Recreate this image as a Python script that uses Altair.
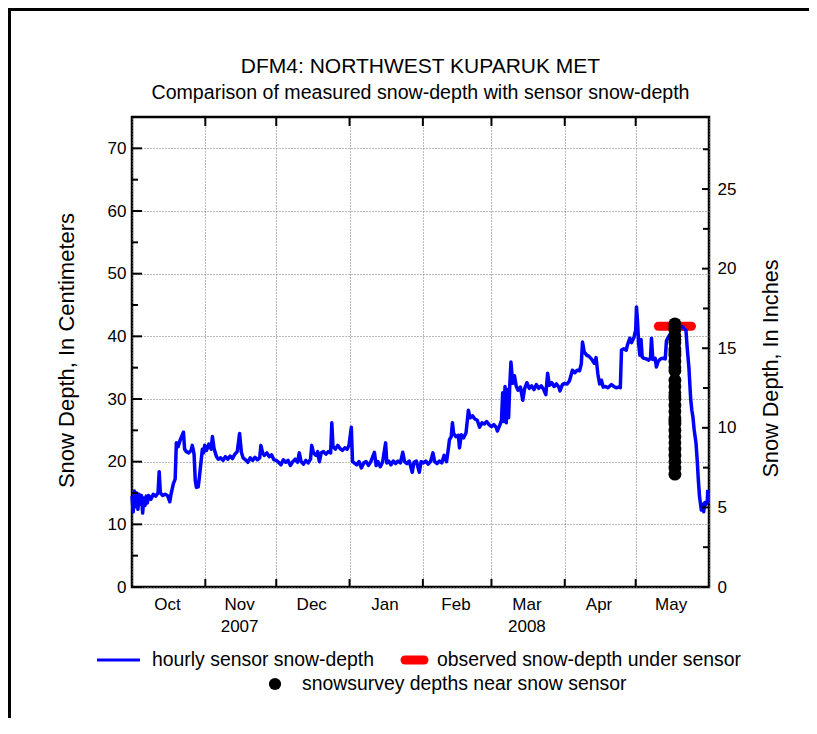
import altair as alt
import pandas as pd

# ---------------- data ----------------
sensor_time = [
    "2007-10-01T00:00", "2007-10-01T12:00", "2007-10-02T00:00", "2007-10-02T12:00", "2007-10-03T00:00",
    "2007-10-03T12:00", "2007-10-04T00:00", "2007-10-04T12:00", "2007-10-05T00:00", "2007-10-05T12:00",
    "2007-10-06T00:00", "2007-10-06T12:00", "2007-10-07T00:00", "2007-10-07T12:00", "2007-10-08T00:00",
    "2007-10-09T00:00", "2007-10-10T00:00", "2007-10-11T00:00", "2007-10-12T00:00", "2007-10-12T12:00",
    "2007-10-13T00:00", "2007-10-14T00:00", "2007-10-15T00:00", "2007-10-16T00:00", "2007-10-17T00:00",
    "2007-10-17T12:00", "2007-10-18T12:00", "2007-10-19T06:00", "2007-10-19T18:00", "2007-10-20T12:00",
    "2007-10-21T12:00", "2007-10-22T18:00", "2007-10-23T06:00", "2007-10-24T00:00", "2007-10-25T00:00",
    "2007-10-26T00:00", "2007-10-26T12:00", "2007-10-27T06:00", "2007-10-27T18:00", "2007-10-28T06:00",
    "2007-10-29T00:00", "2007-10-29T12:00", "2007-10-30T18:00", "2007-10-31T06:00", "2007-10-31T18:00",
    "2007-11-01T12:00", "2007-11-02T12:00", "2007-11-03T12:00", "2007-11-04T00:00", "2007-11-04T18:00",
    "2007-11-05T18:00", "2007-11-06T12:00", "2007-11-07T12:00", "2007-11-08T12:00", "2007-11-09T12:00",
    "2007-11-10T12:00", "2007-11-11T12:00", "2007-11-12T12:00", "2007-11-13T12:00", "2007-11-14T12:00",
    "2007-11-15T12:00", "2007-11-16T06:00", "2007-11-17T00:00", "2007-11-18T00:00", "2007-11-19T00:00",
    "2007-11-20T00:00", "2007-11-21T00:00", "2007-11-22T00:00", "2007-11-23T00:00", "2007-11-24T00:00",
    "2007-11-24T12:00", "2007-11-25T06:00", "2007-11-26T00:00", "2007-11-27T00:00", "2007-11-28T00:00",
    "2007-11-29T00:00", "2007-11-30T00:00", "2007-12-01T00:00", "2007-12-02T00:00", "2007-12-03T00:00",
    "2007-12-04T00:00", "2007-12-05T00:00", "2007-12-06T00:00", "2007-12-07T00:00", "2007-12-08T00:00",
    "2007-12-09T00:00", "2007-12-10T00:00", "2007-12-10T18:00", "2007-12-11T12:00", "2007-12-12T12:00",
    "2007-12-13T12:00", "2007-12-14T12:00", "2007-12-15T12:00", "2007-12-16T00:00", "2007-12-16T18:00",
    "2007-12-17T18:00", "2007-12-18T12:00", "2007-12-19T06:00", "2007-12-20T00:00", "2007-12-21T00:00",
    "2007-12-22T00:00", "2007-12-23T00:00", "2007-12-24T00:00", "2007-12-24T12:00", "2007-12-25T00:00",
    "2007-12-26T00:00", "2007-12-27T00:00", "2007-12-28T00:00", "2007-12-29T00:00", "2007-12-30T00:00",
    "2007-12-31T00:00", "2007-12-31T18:00", "2008-01-01T18:00", "2008-01-02T06:00", "2008-01-03T00:00",
    "2008-01-04T00:00", "2008-01-05T00:00", "2008-01-06T00:00", "2008-01-07T00:00", "2008-01-08T00:00",
    "2008-01-09T00:00", "2008-01-10T00:00", "2008-01-11T12:00", "2008-01-12T06:00", "2008-01-13T00:00",
    "2008-01-14T00:00", "2008-01-15T00:00", "2008-01-16T06:00", "2008-01-16T18:00", "2008-01-17T12:00",
    "2008-01-18T12:00", "2008-01-19T12:00", "2008-01-20T12:00", "2008-01-21T12:00", "2008-01-22T12:00",
    "2008-01-23T12:00", "2008-01-24T06:00", "2008-01-25T06:00", "2008-01-26T06:00", "2008-01-27T12:00",
    "2008-01-28T06:00", "2008-01-29T06:00", "2008-01-30T12:00", "2008-01-31T06:00", "2008-02-01T06:00",
    "2008-02-02T06:00", "2008-02-03T06:00", "2008-02-04T06:00", "2008-02-05T06:00", "2008-02-06T00:00",
    "2008-02-07T00:00", "2008-02-08T00:00", "2008-02-09T00:00", "2008-02-10T00:00", "2008-02-11T00:00",
    "2008-02-11T18:00", "2008-02-12T06:00", "2008-02-13T00:00", "2008-02-13T12:00", "2008-02-14T00:00",
    "2008-02-15T00:00", "2008-02-16T00:00", "2008-02-16T12:00", "2008-02-17T06:00", "2008-02-18T06:00",
    "2008-02-19T06:00", "2008-02-20T06:00", "2008-02-21T00:00", "2008-02-22T00:00", "2008-02-23T00:00",
    "2008-02-24T00:00", "2008-02-25T00:00", "2008-02-26T00:00", "2008-02-27T00:00", "2008-02-28T00:00",
    "2008-02-29T00:00", "2008-03-01T00:00", "2008-03-02T00:00", "2008-03-03T00:00", "2008-03-03T12:00",
    "2008-03-04T12:00", "2008-03-05T06:00", "2008-03-05T18:00", "2008-03-06T06:00", "2008-03-06T18:00",
    "2008-03-07T06:00", "2008-03-07T18:00", "2008-03-08T06:00", "2008-03-08T18:00", "2008-03-09T06:00",
    "2008-03-10T00:00", "2008-03-10T18:00", "2008-03-11T12:00", "2008-03-12T06:00", "2008-03-13T06:00",
    "2008-03-14T06:00", "2008-03-15T00:00", "2008-03-16T00:00", "2008-03-17T00:00", "2008-03-18T00:00",
    "2008-03-19T00:00", "2008-03-20T00:00", "2008-03-21T00:00", "2008-03-22T00:00", "2008-03-23T00:00",
    "2008-03-24T00:00", "2008-03-24T18:00", "2008-03-25T12:00", "2008-03-26T12:00", "2008-03-27T12:00",
    "2008-03-28T12:00", "2008-03-29T12:00", "2008-03-30T00:00", "2008-03-31T00:00", "2008-04-01T00:00",
    "2008-04-02T00:00", "2008-04-03T00:00", "2008-04-04T06:00", "2008-04-05T06:00", "2008-04-06T06:00",
    "2008-04-07T06:00", "2008-04-08T00:00", "2008-04-08T12:00", "2008-04-09T06:00", "2008-04-10T06:00",
    "2008-04-11T06:00", "2008-04-12T06:00", "2008-04-13T12:00", "2008-04-14T06:00", "2008-04-15T00:00",
    "2008-04-15T18:00", "2008-04-16T12:00", "2008-04-17T06:00", "2008-04-18T06:00", "2008-04-19T06:00",
    "2008-04-20T18:00", "2008-04-21T18:00", "2008-04-22T18:00", "2008-04-23T18:00", "2008-04-24T12:00",
    "2008-04-25T00:00", "2008-04-26T00:00", "2008-04-27T00:00", "2008-04-27T12:00", "2008-04-28T12:00",
    "2008-04-29T06:00", "2008-04-30T06:00", "2008-05-01T00:00", "2008-05-01T08:00", "2008-05-01T18:00",
    "2008-05-02T06:00", "2008-05-02T18:00", "2008-05-03T06:00", "2008-05-03T18:00", "2008-05-04T12:00",
    "2008-05-05T12:00", "2008-05-06T12:00", "2008-05-07T06:00", "2008-05-07T16:00", "2008-05-08T06:00",
    "2008-05-09T06:00", "2008-05-09T18:00", "2008-05-10T12:00", "2008-05-11T12:00", "2008-05-12T12:00",
    "2008-05-13T12:00", "2008-05-14T00:00", "2008-05-15T00:00", "2008-05-16T00:00", "2008-05-17T00:00",
    "2008-05-18T00:00", "2008-05-19T00:00", "2008-05-20T00:00", "2008-05-21T00:00", "2008-05-21T12:00",
    "2008-05-22T06:00", "2008-05-22T18:00", "2008-05-23T12:00", "2008-05-24T06:00", "2008-05-24T18:00",
    "2008-05-25T06:00", "2008-05-25T18:00", "2008-05-26T12:00", "2008-05-27T00:00", "2008-05-27T12:00",
    "2008-05-28T00:00", "2008-05-28T18:00", "2008-05-29T06:00", "2008-05-29T18:00", "2008-05-30T06:00",
    "2008-05-30T18:00", "2008-05-31T06:00", "2008-05-31T12:00",
]
sensor_cm = [
    14.5, 12.0, 15.3, 12.8, 15.0,
    12.4, 14.8, 13.2, 14.6, 11.8,
    14.2, 13.0, 14.5, 13.4, 14.6,
    14.0, 14.8, 14.5, 15.0, 18.4,
    15.0, 14.6, 14.8, 14.6, 13.6,
    14.8, 16.5, 17.2, 23.0, 22.4,
    23.6, 24.7, 22.0, 21.6, 21.4,
    21.8, 22.6, 21.2, 17.0, 15.9,
    16.0, 17.5, 22.0, 21.4, 22.6,
    21.8, 22.8, 22.0, 24.0, 22.0,
    20.8, 20.4, 20.6, 20.2, 20.8,
    20.4, 20.9, 20.5, 21.2, 21.6,
    24.5, 21.5, 20.6, 20.3, 19.9,
    20.6, 20.2, 20.7, 20.3, 20.6,
    22.6, 21.4, 21.0, 21.4, 20.8,
    21.1, 20.3, 20.2, 19.9, 19.5,
    20.3, 19.9, 20.2, 19.4, 20.0,
    20.4, 19.9, 21.4, 20.0, 19.6,
    20.2, 19.8, 20.4, 22.6, 21.4,
    21.0, 21.6, 20.0, 21.4, 21.6,
    21.2, 21.6, 21.4, 26.2, 22.4,
    22.0, 22.6, 22.1, 21.8, 22.2,
    22.0, 22.6, 25.5, 20.0, 19.8,
    19.5, 20.0, 19.0, 19.8, 20.0,
    19.4, 20.0, 21.5, 19.4, 20.0,
    19.2, 20.0, 23.0, 19.8, 20.1,
    19.5, 20.1, 19.7, 20.1, 19.8,
    21.5, 20.0, 19.7, 20.1, 18.3,
    19.9, 20.1, 18.3, 20.0, 19.8,
    20.1, 19.6, 20.0, 21.4, 20.0,
    19.7, 20.1, 19.8, 21.0, 20.0,
    22.0, 23.5, 24.0, 26.2, 24.5,
    24.0, 24.2, 22.2, 24.3, 23.8,
    24.6, 28.2, 27.0, 27.3, 26.8,
    26.6, 25.5, 26.2, 26.0, 26.4,
    25.9, 25.6, 25.9, 25.5, 24.9,
    25.8, 26.6, 31.0, 26.4, 32.0,
    26.2, 31.5, 27.0, 32.2, 35.9,
    32.5, 33.7, 32.0, 31.4, 31.9,
    29.8, 31.6, 32.6, 31.7, 32.1,
    31.5, 32.3, 31.7, 32.1, 31.6,
    30.7, 34.1, 32.2, 32.6, 32.0,
    32.4, 31.9, 31.3, 32.3, 32.5,
    32.4, 32.9, 34.6, 34.2, 34.6,
    34.5, 35.6, 39.1, 37.5, 37.0,
    36.8, 36.4, 35.7, 36.6, 34.0,
    32.4, 33.0, 31.9, 32.0, 31.8,
    32.3, 32.0, 31.8, 31.9, 31.8,
    37.8, 38.0, 37.8, 38.6, 39.7,
    39.0, 39.8, 41.0, 44.7, 42.6,
    38.8, 37.0, 39.5, 36.7, 36.5,
    36.4, 36.2, 36.5, 39.7, 36.3,
    36.5, 35.1, 36.0, 36.4, 36.5,
    36.4, 39.3, 40.0, 40.6, 41.0,
    41.2, 41.5, 41.6, 41.5, 41.2,
    41.0, 38.3, 35.0, 30.0, 28.2,
    27.0, 25.0, 23.0, 20.3, 17.0,
    14.4, 12.3, 13.2, 12.0, 13.5,
    13.2, 13.6, 15.5,
]

survey_time = "2008-05-17T14:00"
survey_cm = [42.0, 41.5, 41.0, 40.0, 39.5, 39.0, 38.0, 37.5, 37.0, 36.0,
             35.0, 34.5, 33.0, 32.0, 31.0, 30.5, 30.0, 29.0, 28.0, 27.0,
             26.5, 26.0, 25.0, 24.0, 23.0, 22.0, 21.0, 20.0, 19.0, 18.0]

observed_start = "2008-05-10T14:00"
observed_end = "2008-05-24T14:00"
observed_cm = [41.6]

month_bounds = ["2007-11-01T00:00", "2007-12-01T00:00", "2008-01-01T00:00", "2008-02-01T00:00",
                "2008-03-01T00:00", "2008-04-01T00:00", "2008-05-01T00:00"]
month_mid = ["2007-10-16T00:00", "2007-11-15T12:00", "2007-12-16T00:00", "2008-01-16T00:00",
             "2008-02-15T00:00", "2008-03-16T00:00", "2008-04-15T12:00", "2008-05-16T00:00"]
month_labels = ["Oct", "Nov", "Dec", "Jan", "Feb", "Mar", "Apr", "May"]
year_mid = ["2007-11-15T12:00", "2008-03-16T00:00"]
year_labels = ["2007", "2008"]

cm_major = [0, 10, 20, 30, 40, 50, 60, 70]
cm_minor = [5, 15, 25, 35, 45, 55, 65, 75]
in_major = [0, 5, 10, 15, 20, 25]
in_minor = [2.5, 7.5, 12.5, 17.5, 22.5, 27.5]
CM_MAX = 75
IN_MAX = 75 / 2.54

legend_labels = ["hourly sensor snow-depth", "observed snow-depth under sensor",
                 "snowsurvey depths near snow sensor"]
title_text = "DFM4: NORTHWEST KUPARUK MET"
subtitle_text = "Comparison of measured snow-depth with sensor snow-depth"

# ---------------- layout ----------------
W, H = 577, 470
FONT = "Liberation Sans"

start = alt.DateTime(year=2007, month=10, date=1)
end = alt.DateTime(year=2008, month=6, date=1)


def xs():
    return alt.Scale(domain=[start, end])


def ys():
    return alt.Scale(domain=[0, CM_MAX], nice=False, zero=True)


def ins():
    return alt.Scale(domain=[0, IN_MAX], nice=False, zero=True)


one = pd.DataFrame({"k": [0]})
sensor_df = pd.DataFrame({"t": sensor_time, "cm": sensor_cm})
survey_df = pd.DataFrame({"t": [survey_time] * len(survey_cm), "cm": survey_cm})
obs_df = pd.DataFrame({"t": [observed_start], "t2": [observed_end], "cm": observed_cm})
bounds_df = pd.DataFrame({"t": month_bounds})
months_df = pd.DataFrame({"t": month_mid, "lab": month_labels})
years_df = pd.DataFrame({"t": year_mid, "lab": year_labels})
cmmaj_df = pd.DataFrame({"v": cm_major})
cmmin_df = pd.DataFrame({"v": cm_minor})
inmaj_df = pd.DataFrame({"v": in_major})
inmin_df = pd.DataFrame({"v": in_minor})

x_axis = alt.Axis(grid=True, gridDash=[1, 2], gridColor="#777", gridWidth=1,
                  tickCount={"interval": "month", "step": 1},
                  labels=False, ticks=False, domain=False, title=None)
y_axis = alt.Axis(values=cm_major, grid=True, gridDash=[1, 2], gridColor="#777", gridWidth=1,
                  ticks=False, domain=False, labelPadding=6, labelFontSize=17,
                  labelColor="black", labelFont=FONT,
                  title="Snow Depth, In Centimeters", titleFontSize=22, titleFontWeight="normal",
                  titleColor="black", titleFont=FONT, titleX=-66, titleY=H / 2 - 2, titleAngle=270,
                  titleAlign="center", titleBaseline="middle")
in_axis = alt.Axis(orient="right", values=in_major, grid=False, ticks=False, domain=False,
                   labelPadding=8, labelFontSize=17, labelColor="black", labelFont=FONT,
                   title="Snow Depth, In Inches", titleFontSize=21.7, titleFontWeight="normal",
                   titleColor="black", titleFont=FONT, titleX=61, titleY=H / 2 + 16, titleAngle=270,
                   titleAlign="center", titleBaseline="middle")

# axis carriers (grid + labels) built from tick-value data
xgrid = alt.Chart(bounds_df).mark_point(opacity=0).encode(
    x=alt.X("t:T", scale=xs(), axis=x_axis))
ygrid = alt.Chart(cmmaj_df).mark_point(opacity=0).encode(
    y=alt.Y("v:Q", scale=ys(), axis=y_axis))
rgrid = alt.Chart(inmaj_df).mark_point(opacity=0).encode(
    y=alt.Y("v:Q", scale=ins(), axis=in_axis))


def X(field):
    return alt.X(f"{field}:T", scale=xs(), axis=None)


def Y(field):
    return alt.Y(f"{field}:Q", scale=ys(), axis=None)


obs = alt.Chart(obs_df).mark_rule(color="#ff0000", strokeWidth=9, strokeCap="round").encode(
    x=X("t"), x2="t2:T", y=Y("cm"))
line = alt.Chart(sensor_df).mark_line(color="#0000ff", strokeWidth=3.5, strokeJoin="round").encode(
    x=X("t"), y=Y("cm"))
dots = alt.Chart(survey_df).mark_circle(color="black", opacity=1, size=165).encode(
    x=X("t"), y=Y("cm"))

# inward tick marks
lmaj = alt.Chart(cmmaj_df).mark_rule(color="black", strokeWidth=2).encode(
    y=Y("v"), x=alt.value(0), x2=alt.value(10))
lmin = alt.Chart(cmmin_df).mark_rule(color="black", strokeWidth=2).encode(
    y=Y("v"), x=alt.value(0), x2=alt.value(6))
btick = alt.Chart(bounds_df).mark_rule(color="black", strokeWidth=2).encode(
    x=X("t"), y=alt.value(H - 8), y2=alt.value(H))
ttick = alt.Chart(bounds_df).mark_rule(color="black", strokeWidth=2).encode(
    x=X("t"), y=alt.value(0), y2=alt.value(9))
rmaj = alt.Chart(inmaj_df).mark_rule(color="black", strokeWidth=2).encode(
    y=alt.Y("v:Q", scale=ins(), axis=None), x=alt.value(W - 7), x2=alt.value(W))
rmin = alt.Chart(inmin_df).mark_rule(color="black", strokeWidth=2).encode(
    y=alt.Y("v:Q", scale=ins(), axis=None), x=alt.value(W - 6), x2=alt.value(W))

# month and year labels
mlab = alt.Chart(months_df).mark_text(fontSize=17, font=FONT, color="black", baseline="middle").encode(
    x=X("t"), y=alt.value(H + 18), text="lab:N")
ylab = alt.Chart(years_df).mark_text(fontSize=17, font=FONT, color="black", baseline="middle").encode(
    x=X("t"), y=alt.value(H + 40), text="lab:N")

# titles
t1 = alt.Chart(one).mark_text(fontSize=21, font=FONT, color="black", baseline="middle").encode(
    x=alt.value(W / 2), y=alt.value(-50), text=alt.value(title_text))
t2 = alt.Chart(one).mark_text(fontSize=19.6, font=FONT, color="black", baseline="middle").encode(
    x=alt.value(W / 2), y=alt.value(-24), text=alt.value(subtitle_text))

# legend
lg_line = alt.Chart(one).mark_rule(color="#0000ff", strokeWidth=3).encode(
    x=alt.value(-35), x2=alt.value(8), y=alt.value(543))
lg_t1 = alt.Chart(one).mark_text(fontSize=19.4, font=FONT, color="black", align="left", baseline="middle").encode(
    x=alt.value(20), y=alt.value(543), text=alt.value(legend_labels[0]))
lg_red = alt.Chart(one).mark_rule(color="#ff0000", strokeWidth=9, strokeCap="round").encode(
    x=alt.value(273), x2=alt.value(292), y=alt.value(543))
lg_t2 = alt.Chart(one).mark_text(fontSize=19.4, font=FONT, color="black", align="left", baseline="middle").encode(
    x=alt.value(305), y=alt.value(543), text=alt.value(legend_labels[1]))
lg_dot = alt.Chart(one).mark_circle(color="black", opacity=1, size=150).encode(
    x=alt.value(143), y=alt.value(567))
lg_t3 = alt.Chart(one).mark_text(fontSize=19.4, font=FONT, color="black", align="left", baseline="middle").encode(
    x=alt.value(170), y=alt.value(567), text=alt.value(legend_labels[2]))

# outer page frame (top and left edges)
fr_left = alt.Chart(one).mark_rule(color="black", strokeWidth=3).encode(
    x=alt.value(-122.5), y=alt.value(-107.5), y2=alt.value(700))
fr_top = alt.Chart(one).mark_rule(color="black", strokeWidth=3).encode(
    x=alt.value(-124), x2=alt.value(800), y=alt.value(-107.5))

chart = alt.layer(
    xgrid, ygrid, rgrid,
    obs, line, dots, lmaj, lmin, btick, ttick, rmaj, rmin, mlab, ylab,
    t1, t2, lg_line, lg_t1, lg_red, lg_t2, lg_dot, lg_t3, fr_left, fr_top,
).resolve_scale(x="independent", y="independent").resolve_axis(x="independent", y="independent").properties(
    width=W, height=H,
    autosize=alt.AutoSizeParams(type="none"),
    padding={"left": 124, "top": 109, "right": 100, "bottom": 131},
).configure(font=FONT).configure_view(stroke="black", strokeWidth=2.5)

chart.save("out.html", embed_options={"renderer": "svg", "actions": False})
